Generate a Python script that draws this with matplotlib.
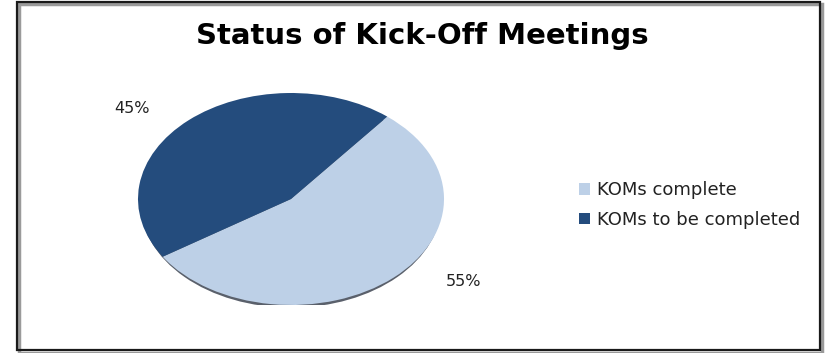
import matplotlib.pyplot as plt
from matplotlib.patches import Ellipse, Rectangle

# chart data
labels = ['KOMs complete', 'KOMs to be completed']
shares = [55, 45]
colors = ['#BDD0E7', '#244C7D']
pct_text = ['55%', '45%']
# where each percent label sits (axes data units, pie radius = 1)
pct_pos = [(1.13, -0.78), (-1.04, 0.85)]

plt.rcParams['font.family'] = ['DejaVu Sans']

fig = plt.figure(figsize=(8.28, 3.53), dpi=100)

# outer frame with a soft grey shadow
fig.patches.append(Rectangle((19 / 828, 0.0), 803 / 828, 349 / 353, transform=fig.transFigure,
                             fill=False, edgecolor='#9a9a9a', linewidth=2.5, zorder=0))
fig.patches.append(Rectangle((17 / 828, 3 / 353), 803 / 828, 348 / 353, transform=fig.transFigure,
                             fill=False, edgecolor='#1a1a1a', linewidth=1.6, zorder=1))

fig.text(0.510, 1 - 44 / 353, 'Status of Kick-Off Meetings', ha='center', va='baseline',
         fontsize=21, fontweight='bold', color='black')

ax = fig.add_axes([138 / 828, 1 - 305 / 353, 306 / 828, 212 / 353])

# thin dark rim under the pie to mimic the 3D edge
ax.add_patch(Ellipse((0, -0.035), 1.97, 1.98, facecolor='#5a606b', edgecolor='none', zorder=0))

wedges, _ = ax.pie(shares, colors=colors, startangle=51, counterclock=False,
                   wedgeprops=dict(linewidth=0, zorder=2))
for w in wedges:
    w.set_zorder(2)

for txt, (x, y) in zip(pct_text, pct_pos):
    ax.text(x, y, txt, ha='center', va='center', fontsize=11.5, color='#222222', zorder=3)

ax.set_aspect('auto')
ax.set_xlim(-1, 1)
ax.set_ylim(-1, 1)
ax.axis('off')

leg = fig.legend(wedges, labels, loc='center left', bbox_to_anchor=(570 / 828, 1 - 205 / 353),
                 frameon=False, fontsize=13, handlelength=0.6, handleheight=0.6,
                 handletextpad=0.4, labelspacing=0.65, borderpad=0)
for t in leg.get_texts():
    t.set_color('#222222')

fig.savefig('out.png', dpi=100)
